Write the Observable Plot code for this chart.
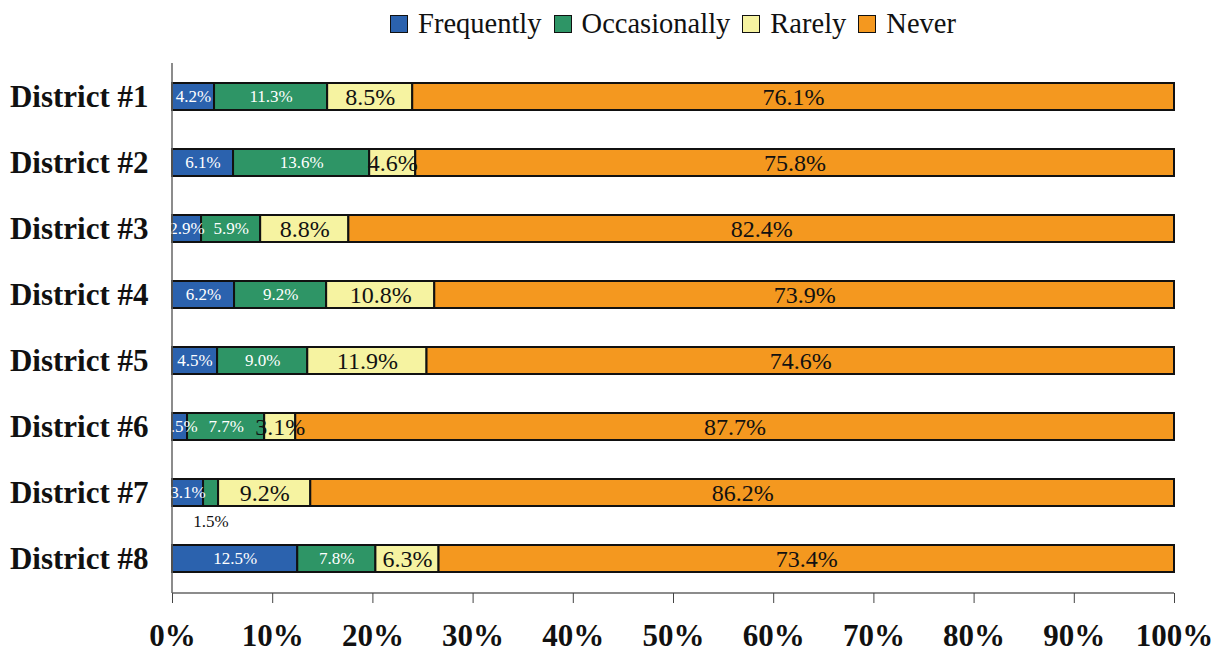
<!DOCTYPE html>
<html>
<head>
<meta charset="utf-8">
<script src="https://cdn.jsdelivr.net/npm/d3@7"></script>
<script src="https://cdn.jsdelivr.net/npm/@observablehq/plot@0.6"></script>
<style>
  html, body { margin: 0; padding: 0; background: #fff; }
  body { width: 1225px; height: 656px; overflow: hidden; font-family: "Liberation Serif", "Times New Roman", serif; }
  #legend { height: 45px; box-sizing: border-box; padding: 2px 51px 0 172px; display: flex; justify-content: center; align-items: center; font-size: 28.5px; color: #111; }
  .item { display: flex; align-items: center; margin: 0 6px; }
  .sw { width: 16px; height: 16px; border: 1.5px solid #111; margin-right: 10px; }
</style>
</head>
<body>
<div id="legend"></div>
<div id="chart"></div>
<script>
const districts = ["District #1","District #2","District #3","District #4","District #5","District #6","District #7","District #8"];
const categories = ["Frequently","Occasionally","Rarely","Never"];
const colors = ["#2b62ae","#2e9566","#f6f3a1","#f4981f"];
const frequently   = [4.2, 6.1, 2.9, 6.2, 4.5, 1.5, 3.1, 12.5];
const occasionally = [11.3, 13.6, 5.9, 9.2, 9.0, 7.7, 1.5, 7.8];
const rarely       = [8.5, 4.6, 8.8, 10.8, 11.9, 3.1, 9.2, 6.3];
const never        = [76.1, 75.8, 82.4, 73.9, 74.6, 87.7, 86.2, 73.4];
const xTicks = [0, 0.1, 0.2, 0.3, 0.4, 0.5, 0.6, 0.7, 0.8, 0.9, 1];
// label drawn below its bar instead of inside it
const outside = {district: "District #7", cat: "Occasionally"};

const series = [frequently, occasionally, rarely, never];
const data = [];
districts.forEach((d, i) => categories.forEach((c, j) => data.push({district: d, cat: c, value: series[j][i]})));

const isOutside = r => r.district === outside.district && r.cat === outside.cat;
const fmt = v => v.toFixed(1) + "%";
const font = "Liberation Serif";

// legend
const lg = document.getElementById("legend");
categories.forEach((c, j) => {
  const it = document.createElement("div"); it.className = "item";
  const sw = document.createElement("div"); sw.className = "sw"; sw.style.background = colors[j];
  const tx = document.createElement("span"); tx.textContent = c;
  it.appendChild(sw); it.appendChild(tx); lg.appendChild(it);
});

const stackOpts = (extra) => Plot.stackX({x: "value", y: "district", z: "cat", offset: "normalize", ...extra});

const lines = (index, scales, values, dim) => {
  const g = d3.create("svg:g").attr("stroke", "#666").attr("stroke-width", 1.5);
  g.append("line").attr("x1", dim.marginLeft).attr("x2", dim.marginLeft).attr("y1", dim.marginTop).attr("y2", dim.height - dim.marginBottom);
  g.append("line").attr("x1", dim.marginLeft).attr("x2", dim.width - dim.marginRight).attr("y1", dim.height - dim.marginBottom).attr("y2", dim.height - dim.marginBottom);
  return g.node();
};

const chart = Plot.plot({
  width: 1225,
  height: 611,
  marginLeft: 172,
  marginRight: 51,
  marginTop: 18,
  marginBottom: 63,
  style: {fontFamily: font, background: "#fff", color: "#111", overflow: "visible"},
  x: {domain: [0, 1], axis: null, label: null},
  y: {domain: districts, paddingInner: 0.59, paddingOuter: 0.285, axis: null, label: null},
  color: {domain: categories, range: colors},
  marks: [
    Plot.barX(data, stackOpts({fill: "cat", stroke: "#111", strokeWidth: 2})),
    Plot.textX(data, stackOpts({
      text: r => (r.cat === "Frequently" || r.cat === "Occasionally") && !isOutside(r) ? fmt(r.value) : "",
      fill: "white", fontSize: 17
    })),
    Plot.textX(data, stackOpts({
      text: r => (r.cat === "Rarely" || r.cat === "Never") ? fmt(r.value) : "",
      fill: "#111", fontSize: 24
    })),
    Plot.textX(data, stackOpts({
      text: r => isOutside(r) ? fmt(r.value) : "",
      fill: "#111", fontSize: 17, dy: 29
    })),
    lines,
    Plot.axisX({ticks: xTicks, tickFormat: d3.format(".0%"), tickSize: 10, tickPadding: 20, stroke: "#444", fontSize: 31, fontWeight: "bold", fill: "#111", label: null}),
    Plot.axisY({tickSize: 0, tickPadding: 24, fontSize: 31, fontWeight: "bold", fill: "#111", label: null})
  ]
});
document.getElementById("chart").appendChild(chart);
</script>
</body>
</html>
